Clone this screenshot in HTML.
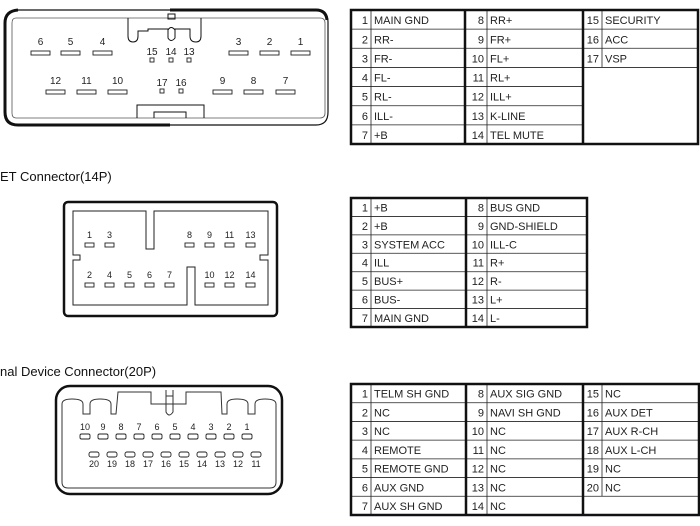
<!DOCTYPE html>
<html><head><meta charset="utf-8"><style>
html,body{margin:0;padding:0;background:#fff;width:700px;height:526px;overflow:hidden}
svg{display:block;font-family:"Liberation Sans",sans-serif}
</style></head><body>
<svg id="s" width="700" height="526" viewBox="0 0 700 526" xmlns="http://www.w3.org/2000/svg">
<rect width="700" height="526" fill="#fff"/>
<!-- Connector 1 -->
<g fill="none" stroke="#111">
<path d="M170 10 H316 Q328 10 328 22 V112 Q328 125 316 125 H170" stroke-width="1.2"/>
<path d="M170 10 H316 Q326 10 327 20" stroke-width="3"/>
<path d="M170 10 H18 Q5 10 5 23 V112 Q5 125 18 125 H170" stroke-width="1.2"/>
<path d="M170 125 H18 Q5 125 5 112 V23 Q5 11 18 10" stroke-width="3"/>
<path d="M16 18 H320 Q325 18 325 23 V113 Q325 118 320 118 H16 Q12 118 12 113 V23 Q12 18 16 18 Z" stroke-width="0.8" stroke="#555"/>
<path d="M128 18 V36 Q128 42 133 42 Q138 42 138 36 V31 H148 V29 H168 V38 Q171 43 175 38 V29 H190 V36 Q190 42 196 42 Q201 42 201 36 V18" stroke-width="1"/>
<path d="M168 30 Q171 25 175 30" stroke-width="1"/>
<rect x="168" y="14" width="7" height="5" stroke-width="1"/>
<path d="M137 118 V105 H204 V118 M154 118 V112 H186 V118" stroke-width="1"/>
</g>
<g id="c1"></g>
<!-- Connector 2 -->
<text x="0" y="181" font-size="13" fill="#111">ET Connector(14P)</text>
<rect x="64" y="202" width="213" height="114" rx="4" fill="none" stroke="#111" stroke-width="2.5"/>
<path d="M73 211 H146 V249 H154 V211 H268 V255 H260 V260 H268 V305 H195 V267 H187 V305 H73 V260 H80 V255 H73 Z" fill="none" stroke="#222" stroke-width="1"/>
<!-- Connector 3 -->
<text x="0" y="376" font-size="13" fill="#111">nal Device Connector(20P)</text>
<rect x="56" y="386" width="226" height="108" rx="14" fill="none" stroke="#111" stroke-width="2.5"/>
<path d="M62 404 Q62 399 72 399 Q83 399 83 404 V414 H90 V404 Q90 399 100 399 Q111 399 111 404 V414 H116 L118 392 H151 V404 H186 V392 H221 L222 414 H227 V404 Q227 399 237 399 Q248 399 248 404 V414 H255 V404 Q255 399 265 399 Q276 399 276 404 V482 Q276 488 270 488 H68 Q62 488 62 482 Z" fill="none" stroke="#333" stroke-width="1"/>
<path d="M166 390 V412 Q169 418 173 412 V390 M166 396 H173" fill="none" stroke="#333" stroke-width="1"/>
<g id="c2"></g><g id="c3"></g>
<g id="tables"></g>
</svg>
<script>
var NS="http://www.w3.org/2000/svg";
function el(p,t,a,txt){var e=document.createElementNS(NS,t);for(var k in a)e.setAttribute(k,a[k]);if(txt!=null)e.textContent=txt;p.appendChild(e);return e;}
var c1=document.getElementById('c1');
function pin(g,x,y,w,h,rx){el(g,'rect',{x:x,y:y,width:w,height:h,rx:rx||0,fill:'none',stroke:'#222','stroke-width':0.9});}
function lab(g,x,y,t,fs){el(g,'text',{x:x,y:y,'font-size':fs||9,'text-anchor':'middle',fill:'#222'},t);}
[[6,31],[5,61],[4,93],[3,229],[2,260],[1,291]].forEach(function(p){pin(c1,p[1],51,19,4);lab(c1,p[1]+9.5,45,p[0],10);});
[[12,46],[11,77],[10,108],[9,213],[8,244],[7,276]].forEach(function(p){pin(c1,p[1],90,19,4);lab(c1,p[1]+9.5,84,p[0],10);});
[[15,150],[14,169],[13,187]].forEach(function(p){pin(c1,p[1],58,4,4);lab(c1,p[1]+2,55,p[0],10);});
[[17,160],[16,179]].forEach(function(p){pin(c1,p[1],89,4,4);lab(c1,p[1]+2,86,p[0],10);});
var c2=document.getElementById('c2');
[[1,85],[3,105],[8,185],[9,205],[11,225],[13,246]].forEach(function(p){pin(c2,p[1],243,9,4);lab(c2,p[1]+4.5,238,p[0]);});
[[2,85],[4,105],[5,125],[6,145],[7,165],[10,205],[12,225],[14,246]].forEach(function(p){pin(c2,p[1],283,9,4);lab(c2,p[1]+4.5,278,p[0]);});
var c3=document.getElementById('c3');
for(var i=0;i<10;i++){var x=80+18*i;pin(c3,x,434,10,5,1.5);lab(c3,x+5,430,10-i);}
for(var i=0;i<10;i++){var x=89+18*i;pin(c3,x,452,10,5,2);lab(c3,x+5,467,20-i);}
var T=document.getElementById('tables');
function table(x0,y0,x1,y1,cols,thick,rows,data){
 var rh=(y1-y0)/rows;
 // data: array of columns groups [numX,nameX, items]
 data.forEach(function(grp){
  var gx0=grp[0],gx1=grp[2],n=grp[3];
  for(var r=0;r<n.length;r++){
   var y=y0+rh*r;
   el(T,'line',{x1:gx0,y1:y+rh,x2:gx1,y2:y+rh,stroke:'#222','stroke-width':0.8});
   el(T,'text',{x:grp[1]-3,y:y+rh-5,'font-size':11,'text-anchor':'end',fill:'#222'},n[r][0]);
   el(T,'text',{x:grp[1]+3,y:y+rh-5,'font-size':11,fill:'#222'},n[r][1]);
  }
  el(T,'line',{x1:grp[1],y1:y0,x2:grp[1],y2:y0+rh*n.length,stroke:'#222','stroke-width':0.8});
 });
 thick.forEach(function(x){el(T,'line',{x1:x,y1:y0,x2:x,y2:y1,stroke:'#111','stroke-width':2.5});});
 el(T,'rect',{x:x0,y:y0,width:x1-x0,height:y1-y0,fill:'none',stroke:'#111','stroke-width':2.5});
}
table(351,10,698,144,[],[465,583],7,[
 [351,371,465,[[1,'MAIN GND'],[2,'RR-'],[3,'FR-'],[4,'FL-'],[5,'RL-'],[6,'ILL-'],[7,'+B']]],
 [465,487,583,[[8,'RR+'],[9,'FR+'],[10,'FL+'],[11,'RL+'],[12,'ILL+'],[13,'K-LINE'],[14,'TEL MUTE']]],
 [583,602,698,[[15,'SECURITY'],[16,'ACC'],[17,'VSP']]]
]);
table(351,198,587,327,[],[466],7,[
 [351,371,466,[[1,'+B'],[2,'+B'],[3,'SYSTEM ACC'],[4,'ILL'],[5,'BUS+'],[6,'BUS-'],[7,'MAIN GND']]],
 [466,487,587,[[8,'BUS GND'],[9,'GND-SHIELD'],[10,'ILL-C'],[11,'R+'],[12,'R-'],[13,'L+'],[14,'L-']]]
]);
table(351,384,699,515,[],[466,583],7,[
 [351,371,466,[[1,'TELM SH GND'],[2,'NC'],[3,'NC'],[4,'REMOTE'],[5,'REMOTE GND'],[6,'AUX GND'],[7,'AUX SH GND']]],
 [466,487,583,[[8,'AUX SIG GND'],[9,'NAVI SH GND'],[10,'NC'],[11,'NC'],[12,'NC'],[13,'NC'],[14,'NC']]],
 [583,602,699,[[15,'NC'],[16,'AUX DET'],[17,'AUX R-CH'],[18,'AUX L-CH'],[19,'NC'],[20,'NC']]]
]);
</script>
</body></html>
